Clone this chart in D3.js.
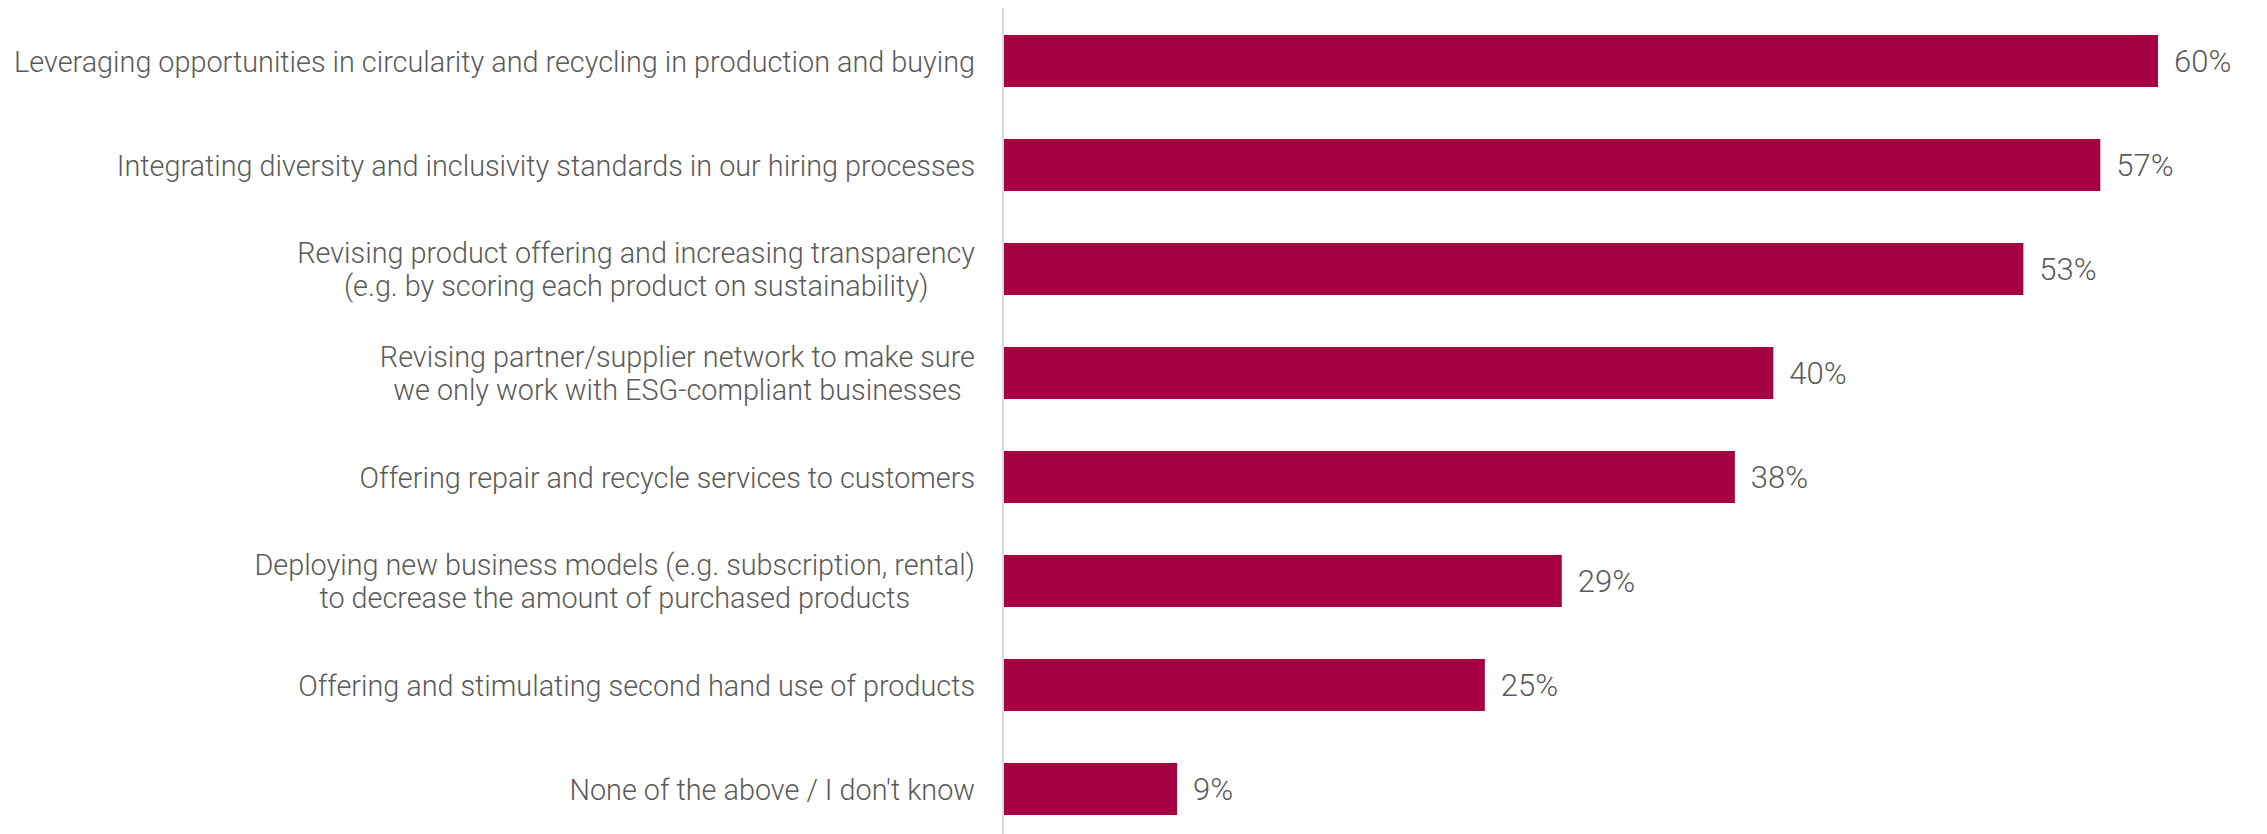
<!DOCTYPE html>
<html>
<head>
<meta charset="utf-8">
<script src="https://cdn.jsdelivr.net/npm/d3@7"></script>
<style>
  html, body { margin: 0; padding: 0; background: #ffffff; }
  svg { display: block; }
  text { font-family: Roboto, "Liberation Sans", Arial, sans-serif; font-weight: 300; fill: #5a5a5a; }
</style>
</head>
<body>
<svg id="chart"></svg>
<script>
// Survey answers (multi-line labels split on "\n")
const categories = [
  "Leveraging opportunities in circularity and recycling in production and buying",
  "Integrating diversity and inclusivity standards in our hiring processes",
  "Revising product offering and increasing transparency\n(e.g. by scoring each product on sustainability)",
  "Revising partner/supplier network to make sure\nwe only work with ESG-compliant businesses",
  "Offering repair and recycle services to customers",
  "Deploying new business models (e.g. subscription, rental)\nto decrease the amount of purchased products",
  "Offering and stimulating second hand use of products",
  "None of the above / I don't know"
];
const values = [60, 57, 53, 40, 38, 29, 25, 9];
const valueLabels = ["60%", "57%", "53%", "40%", "38%", "29%", "25%", "9%"];

const W = 2267, H = 834;
const axisX = 1004;
const labelRight = 975;
const catFont = 30;
const catSqueeze = 0.96;   // slightly narrow lettering for category labels
const valFont = 31;
const lineHeight = 33;
const barColor = "#A50044";

const svg = d3.select("#chart").attr("width", W).attr("height", H);

const data = categories.map((c, i) => ({ cat: c, value: values[i], label: valueLabels[i] }));

const x = d3.scaleLinear().domain([0, 60]).range([axisX, 2158]);
const y = d3.scaleBand()
  .domain(categories)
  .range([9, 841])
  .paddingInner(0.5)
  .paddingOuter(0.25);

// Bars
svg.append("g")
  .selectAll("rect")
  .data(data)
  .join("rect")
  .attr("x", x(0))
  .attr("y", d => y(d.cat))
  .attr("width", d => x(d.value) - x(0))
  .attr("height", y.bandwidth())
  .attr("fill", barColor);

// Vertical baseline
svg.append("line")
  .attr("x1", axisX - 1).attr("x2", axisX - 1)
  .attr("y1", 8).attr("y2", H)
  .attr("stroke", "#d9d9d9")
  .attr("stroke-width", 2);

// Category labels: block right-aligned, lines centred within the block
const labelG = svg.append("g");
data.forEach(d => {
  const lines = d.cat.split("\n");
  const cy = y(d.cat) + y.bandwidth() / 2;
  const g = labelG.append("g")
    .attr("transform", `translate(${labelRight},0) scale(${catSqueeze},1)`);
  const texts = lines.map((ln, k) => g.append("text")
    .attr("font-size", catFont)
    .attr("y", cy + catFont * 0.36 + (k - (lines.length - 1) / 2) * lineHeight)
    .text(ln));
  const maxW = d3.max(texts, t => t.node().getComputedTextLength());
  texts.forEach(t => t.attr("text-anchor", "middle").attr("x", -maxW / 2));
});

// Value labels
svg.append("g")
  .selectAll("text")
  .data(data)
  .join("text")
  .attr("font-size", valFont)
  .attr("x", d => x(d.value) + 16)
  .attr("y", d => y(d.cat) + y.bandwidth() / 2 + valFont * 0.36)
  .text(d => d.label);
</script>
</body>
</html>
